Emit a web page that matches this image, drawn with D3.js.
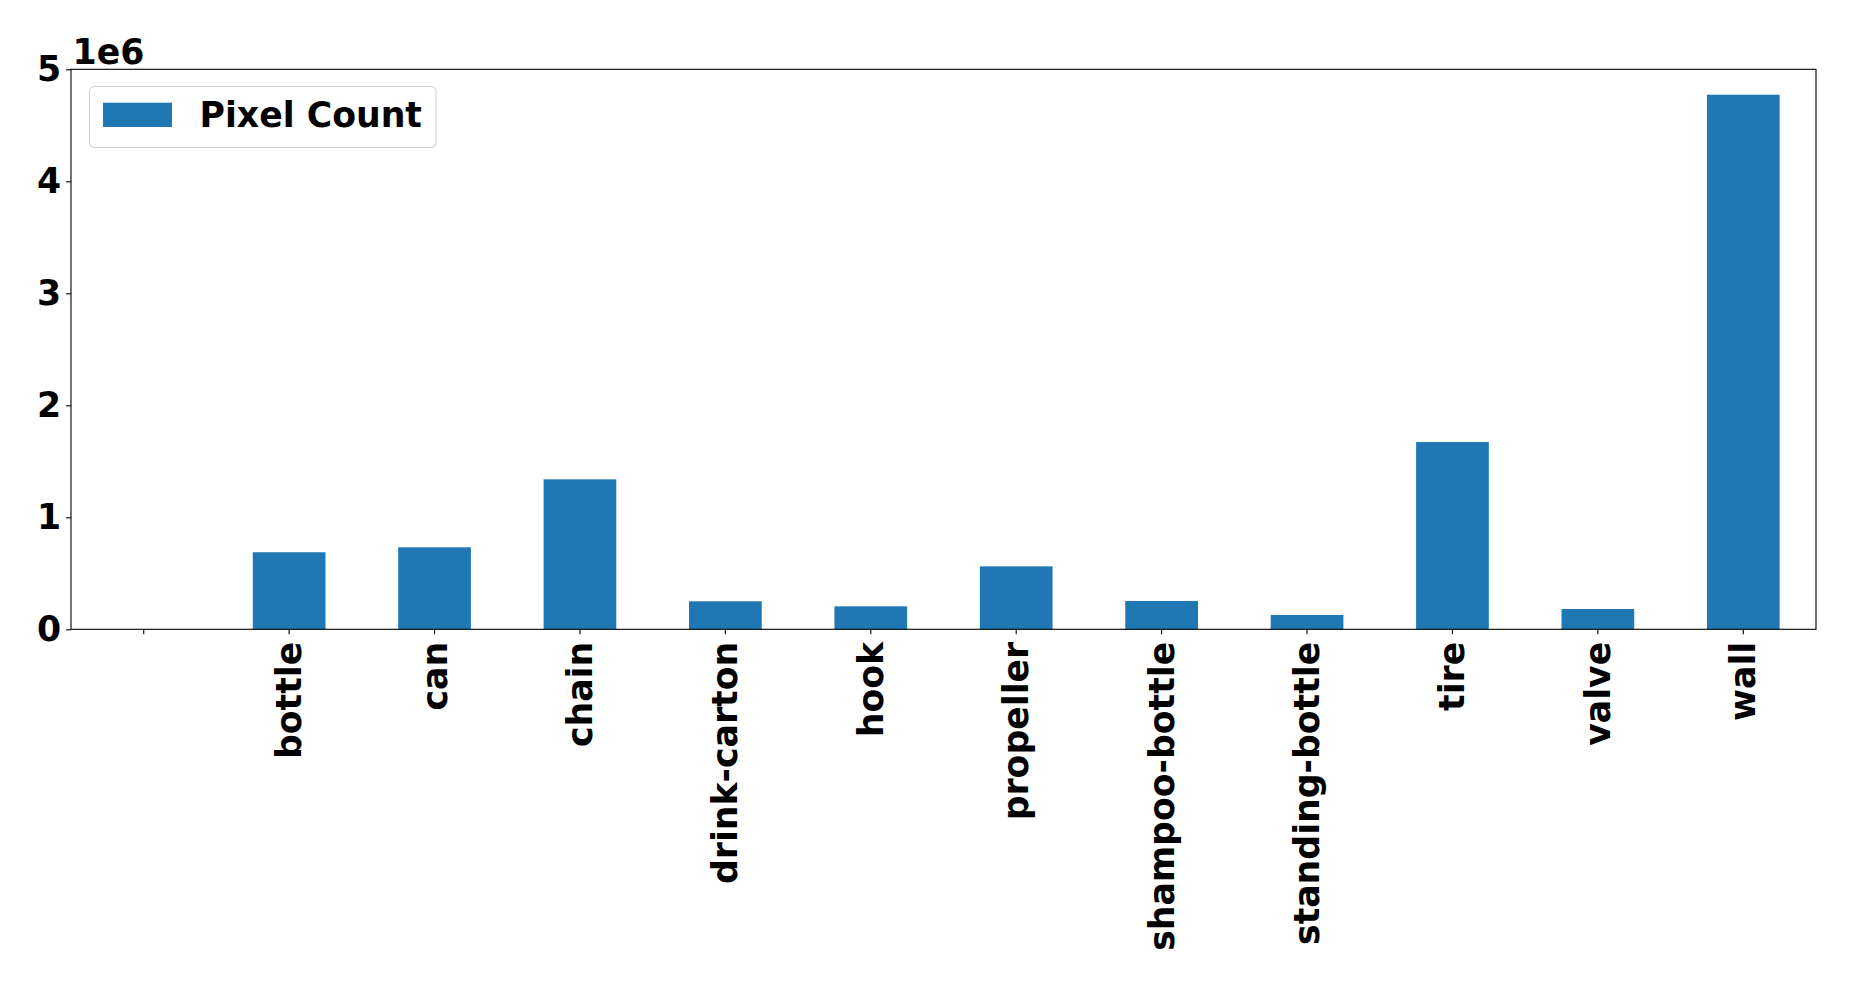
<!DOCTYPE html>
<html>
<head>
<meta charset="utf-8">
<script src="https://cdn.jsdelivr.net/npm/d3@7"></script>
<style>
  html, body { margin: 0; padding: 0; background: #fff; }
  svg { display: block; }
  text { font-family: "DejaVu Sans", sans-serif; font-weight: bold; fill: #000; }
</style>
</head>
<body>
<svg id="chart" width="1853" height="986"></svg>
<script>
// ---- data ----
const categories = ["", "bottle", "can", "chain", "drink-carton", "hook", "propeller",
  "shampoo-bottle", "standing-bottle", "tire", "valve", "wall"];
const pixelCount = [0, 688000, 732000, 1339000, 250000, 205000, 562000,
  253000, 128000, 1672000, 181000, 4773000];
const yTicks = [0, 1000000, 2000000, 3000000, 4000000, 5000000];
const seriesName = "Pixel Count";
const offsetLabel = "1e6";

(function () {
// ---- layout ----
const mLeft = 71, mRight = 1816, mTop = 69.3, mBottom = 629.3;
const fontSize = 34.7;
const color = "#1f77b4";

const svg = d3.select("#chart");

const x = d3.scaleBand()
  .domain(categories.map((c, i) => i))
  .range([mLeft, mRight])
  .paddingInner(0.5)
  .paddingOuter(0.25);

const y = d3.scaleLinear().domain([0, 5000000]).range([mBottom, mTop]);

// bars
svg.append("g").selectAll("rect")
  .data(pixelCount.map((v, i) => ({i, v})))
  .join("rect")
  .attr("x", d => x(d.i))
  .attr("width", x.bandwidth())
  .attr("y", d => y(d.v))
  .attr("height", d => y(0) - y(d.v))
  .attr("fill", color);

// frame
svg.append("rect")
  .attr("x", mLeft).attr("y", mTop)
  .attr("width", mRight - mLeft).attr("height", mBottom - mTop)
  .attr("fill", "none").attr("stroke", "#000").attr("stroke-width", 1.1);

// y axis
const yAxis = d3.axisLeft(y)
  .tickValues(yTicks)
  .tickFormat(d => d3.format("d")(d / 1e6))
  .tickSize(4.9)
  .tickPadding(4.9);
const gy = svg.append("g").attr("transform", `translate(${mLeft},0)`).call(yAxis);
gy.select(".domain").remove();
gy.selectAll(".tick line").attr("stroke", "#000").attr("stroke-width", 1.1);
gy.selectAll(".tick text")
  .style("font-size", fontSize + "px")
  .style("font-family", "DejaVu Sans")
  .style("font-weight", "bold")
  .attr("fill", "#000");

// x axis
const xAxis = d3.axisBottom(x)
  .tickFormat(i => categories[i])
  .tickSize(4.9)
  .tickPadding(4.9);
const gx = svg.append("g").attr("transform", `translate(0,${mBottom})`).call(xAxis);
gx.select(".domain").remove();
gx.selectAll(".tick line").attr("stroke", "#000").attr("stroke-width", 1.1);
gx.selectAll(".tick text")
  .style("font-size", fontSize + "px")
  .style("font-family", "DejaVu Sans")
  .style("font-weight", "bold")
  .attr("fill", "#000")
  .attr("text-anchor", "end")
  .attr("dy", null)
  .attr("y", 0)
  .attr("dominant-baseline", "central")
  .attr("transform", "translate(0,12.5) rotate(-90)");

// offset label
svg.append("text")
  .attr("x", 72.5).attr("y", 64.3)
  .style("font-size", fontSize + "px")
  .text(offsetLabel);

// legend
const lg = svg.append("g");
lg.append("rect")
  .attr("x", 89.5).attr("y", 86.5).attr("width", 346.5).attr("height", 61)
  .attr("rx", 5).attr("ry", 5)
  .attr("fill", "#fff").attr("fill-opacity", 0.8)
  .attr("stroke", "#d0d0d0").attr("stroke-width", 1.1);
lg.append("rect")
  .attr("x", 103).attr("y", 102.7).attr("width", 69).attr("height", 24.3)
  .attr("fill", color);
lg.append("text")
  .attr("x", 199.5).attr("y", 127.3)
  .style("font-size", fontSize + "px")
  .text(seriesName);
})();
</script>
</body>
</html>
